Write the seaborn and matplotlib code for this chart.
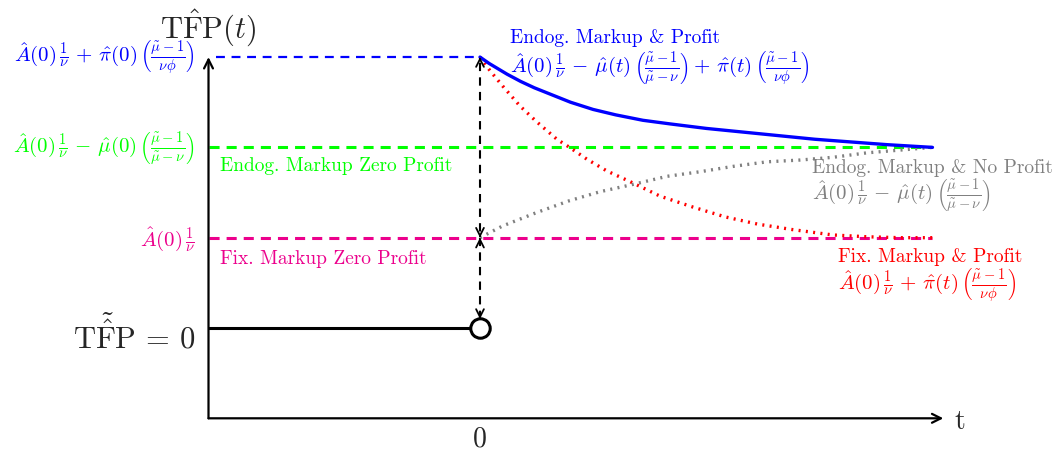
import numpy as np
import pandas as pd
import seaborn as sns
import matplotlib.pyplot as plt

# levels (in units of the drawing)
lvl_fix = 1.0      # A(0)/nu
lvl_zero = 2.0     # endog markup zero profit
lvl_top = 3.0      # A(0)/nu + pi(0)(...)
t_end = 5.0

# curves
t_blue = [0, 0.1, 0.2, 0.3, 0.45, 0.6, 0.8, 1.0, 1.25, 1.5, 1.8, 2.1, 2.5, 2.9,
          3.3, 3.7, 4.1, 4.5, 5.0]
y_blue = [3.0, 2.93, 2.87, 2.81, 2.73, 2.66, 2.58, 2.50, 2.42, 2.36, 2.30, 2.26,
          2.21, 2.17, 2.13, 2.09, 2.06, 2.03, 2.0]

t_red = [0, 0.11, 0.25, 0.44, 0.63, 0.85, 0.99, 1.18, 1.40, 1.66, 1.99, 2.35,
         2.71, 3.07, 3.45, 3.90, 4.28, 4.64, 5.0]
y_red = [3.0, 2.85, 2.68, 2.46, 2.28, 2.09, 2.0, 1.87, 1.74, 1.62, 1.46, 1.34,
         1.23, 1.15, 1.09, 1.03, 1.01, 1.0, 1.0]

t_gray = [0, 0.25, 0.63, 0.99, 1.33, 1.69, 2.07, 2.43, 2.80, 3.17, 3.54, 3.90,
          4.28, 4.64, 5.0]
y_gray = [1.0, 1.13, 1.28, 1.41, 1.51, 1.59, 1.68, 1.73, 1.79, 1.84, 1.86, 1.89,
          1.94, 1.97, 2.0]

blue = "#0000FF"
green = "#00FF00"
magenta = "#EC008C"
red = "#FF0000"
gray = "#808080"

sns.set_style("white")
plt.rcParams["font.family"] = "serif"
plt.rcParams["font.serif"] = ["cmr10", "DejaVu Serif"]
plt.rcParams["mathtext.fontset"] = "cm"
plt.rcParams["axes.unicode_minus"] = False

fig = plt.figure(figsize=(10.57, 4.52), dpi=100)
ax = fig.add_axes([0, 0, 1, 1])
ax.set_xlim(-5.304, 6.376)
ax.set_ylim(-1.362, 3.643)
ax.axis("off")

# axes with arrows
ax.annotate("", xy=(-3, lvl_top), xytext=(-3, -1),
            arrowprops=dict(arrowstyle="->", lw=1.6, color="black", mutation_scale=16,
                            shrinkA=0, shrinkB=0))
ax.annotate("", xy=(5.12, -1), xytext=(-3, -1),
            arrowprops=dict(arrowstyle="->", lw=1.6, color="black", mutation_scale=16,
                            shrinkA=0, shrinkB=0))

# horizontal reference lines
ax.plot([-2.92, 0], [lvl_top, lvl_top], color=blue, lw=1.6, ls=(0, (4, 3)))
ax.plot([-3, t_end], [lvl_zero, lvl_zero], color=green, lw=2.2, ls=(0, (3.3, 2.3)))
ax.plot([-3, t_end], [lvl_fix, lvl_fix], color=magenta, lw=2.2, ls=(0, (3.3, 2.3)))
ax.plot([-3, -0.1], [0, 0], color="black", lw=2.2)

# vertical jump
ax.plot([0, 0], [0.1, lvl_top], color="black", lw=1.5, ls=(0, (4, 3)))
head = dict(arrowstyle="->", lw=1.3, color="black", mutation_scale=14, shrinkA=0, shrinkB=0)
ax.annotate("", xy=(0, lvl_top), xytext=(0, lvl_top - 0.03), arrowprops=head)
ax.annotate("", xy=(0, lvl_fix), xytext=(0, lvl_fix + 0.03), arrowprops=head)
ax.annotate("", xy=(0, lvl_fix), xytext=(0, lvl_fix - 0.03), arrowprops=head)
ax.annotate("", xy=(0, 0.1), xytext=(0, 0.13), arrowprops=head)
ax.plot([0], [0], marker="o", ms=14, mfc="white", mec="black", mew=2.2, zorder=5)

# transition paths
sns.lineplot(x=t_red, y=y_red, ax=ax, sort=False, estimator=None, color=red,
             lw=2.4, ls=(0, (0.6, 1.6)))
sns.lineplot(x=t_gray, y=y_gray, ax=ax, sort=False, estimator=None, color=gray,
             lw=2.4, ls=(0, (0.6, 1.6)))
sns.lineplot(x=t_blue, y=y_blue, ax=ax, sort=False, estimator=None, color=blue, lw=2.4)

# axis labels
ax.text(-3, 3.33, r"$\mathrm{T\hat{F}P}(t)$", fontsize=22, ha="center", va="center")
ax.text(-3.15, -0.06, r"$\mathrm{T}\tilde{\hat{\mathrm{F}}}\mathrm{P}\,=\,0$", fontsize=22,
        ha="right", va="center")
ax.text(0, -1.22, "0", fontsize=20, ha="center", va="center")
ax.text(5.3, -1.03, "t", fontsize=20, ha="center", va="center")

# level labels
mfs = 15
ax.text(-3.15, lvl_top, r"$\hat{A}(0)\,\frac{1}{\nu}\,+\,\hat{\pi}(0)\,\left(\frac{\tilde{\mu}-1}{\nu\phi}\right)$",
        color=blue, fontsize=mfs, ha="right", va="center")
ax.text(-3.15, lvl_zero, r"$\hat{A}(0)\,\frac{1}{\nu}\,-\,\hat{\mu}(0)\,\left(\frac{\tilde{\mu}-1}{\tilde{\mu}-\nu}\right)$",
        color=green, fontsize=mfs, ha="right", va="center")
ax.text(-3.15, lvl_fix, r"$\hat{A}(0)\,\frac{1}{\nu}$",
        color=magenta, fontsize=mfs, ha="right", va="center")

# line descriptions
tfs = 14
ax.text(-2.87, 1.81, "Endog. Markup Zero Profit", color=green, fontsize=tfs, va="center")
ax.text(-2.87, 0.78, "Fix. Markup Zero Profit", color=magenta, fontsize=tfs, va="center")

ax.text(0.33, 3.22, "Endog. Markup & Profit", color=blue, fontsize=tfs, va="center")
ax.text(0.33, 2.88, r"$\hat{A}(0)\,\frac{1}{\nu}\,-\,\hat{\mu}(t)\,\left(\frac{\tilde{\mu}-1}{\tilde{\mu}-\nu}\right)+\,\hat{\pi}(t)\,\left(\frac{\tilde{\mu}-1}{\nu\phi}\right)$",
        color=blue, fontsize=mfs, va="center")

ax.text(3.67, 1.78, "Endog. Markup & No Profit", color=gray, fontsize=tfs, va="center")
ax.text(3.67, 1.47, r"$\hat{A}(0)\,\frac{1}{\nu}\,-\,\hat{\mu}(t)\,\left(\frac{\tilde{\mu}-1}{\tilde{\mu}-\nu}\right)$",
        color=gray, fontsize=mfs, va="center")

ax.text(3.96, 0.8, "Fix. Markup & Profit", color=red, fontsize=tfs, va="center")
ax.text(3.96, 0.48, r"$\hat{A}(0)\,\frac{1}{\nu}\,+\,\hat{\pi}(t)\,\left(\frac{\tilde{\mu}-1}{\nu\phi}\right)$",
        color=red, fontsize=mfs, va="center")

fig.savefig("out.png", dpi=100)
